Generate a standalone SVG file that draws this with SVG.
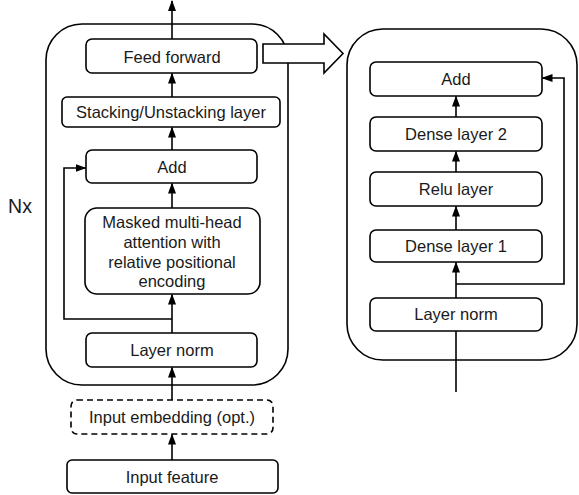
<svg xmlns="http://www.w3.org/2000/svg" width="579" height="495" viewBox="0 0 579 495">
<style>
.box{fill:#fff;stroke:#000;stroke-width:1.6}
.dash{fill:#fff;stroke:#000;stroke-width:1.6;stroke-dasharray:6,4}
.cont{fill:none;stroke:#000;stroke-width:1.6}
.t{font-family:"Liberation Sans",Arial,sans-serif;font-size:16.5px;fill:#1a1a1a;text-anchor:middle}
.c{fill:none;stroke:#000;stroke-width:1.6}
</style>
<defs>
<marker id="ah" markerUnits="userSpaceOnUse" markerWidth="11" markerHeight="8" refX="10" refY="4" orient="auto">
<path d="M0,0 L11,4 L0,8 z" fill="#000"/>
</marker>
</defs>
<rect class="cont" x="46" y="24" width="242" height="361" rx="36"/>
<rect class="cont" x="347" y="29" width="230" height="331" rx="36"/>
<text class="t" x="20" y="213" style="font-size:19.5px">Nx</text>
<g id="connectors">
<line class="c" x1="172" y1="39" x2="172" y2="1" marker-end="url(#ah)"/>
<line class="c" x1="172" y1="97" x2="172" y2="73.5" marker-end="url(#ah)"/>
<line class="c" x1="172" y1="150" x2="172" y2="127.5" marker-end="url(#ah)"/>
<line class="c" x1="172" y1="208" x2="172" y2="183.5" marker-end="url(#ah)"/>
<line class="c" x1="172" y1="333" x2="172" y2="294.5" marker-end="url(#ah)"/>
<path class="c" d="M172,319 H64 V168 H85.5" marker-end="url(#ah)"/>
<line class="c" x1="172" y1="400" x2="172" y2="367.5" marker-end="url(#ah)"/>
<line class="c" x1="172" y1="460" x2="172" y2="434.5" marker-end="url(#ah)"/>
<line class="c" x1="456" y1="392" x2="456" y2="331"/>
<line class="c" x1="456" y1="298" x2="456" y2="262.5" marker-end="url(#ah)"/>
<line class="c" x1="456" y1="230" x2="456" y2="206.5" marker-end="url(#ah)"/>
<line class="c" x1="456" y1="172" x2="456" y2="151.5" marker-end="url(#ah)"/>
<line class="c" x1="456" y1="117" x2="456" y2="96.5" marker-end="url(#ah)"/>
<path class="c" d="M456,284 H564 V78 H542.5" marker-end="url(#ah)"/>
</g>
<g id="big-arrow">
<polygon points="263,44 324,44 324,34 343,53.5 324,73 324,63 263,63" fill="#fff" stroke="#000" stroke-width="1.6"/>
</g>
<g id="feed-forward">
<rect class="box" x="86" y="39" width="171" height="34" rx="6"/>
<text class="t" x="172" y="63">Feed forward</text>
</g>
<g id="stacking">
<rect class="box" x="62" y="97" width="218" height="30" rx="5"/>
<text class="t" x="171" y="118">Stacking/Unstacking layer</text>
</g>
<g id="add-left">
<rect class="box" x="86" y="150" width="171" height="33" rx="6"/>
<text class="t" x="172" y="173">Add</text>
</g>
<g id="masked-attention">
<rect class="box" x="85" y="208" width="175" height="86" rx="12"/>
<text class="t" x="172" y="228">Masked multi-head</text>
<text class="t" x="172" y="248">attention with</text>
<text class="t" x="172" y="268">relative positional</text>
<text class="t" x="172" y="287">encoding</text>
</g>
<g id="layer-norm-left">
<rect class="box" x="86" y="333" width="171" height="34" rx="6"/>
<text class="t" x="172" y="356">Layer norm</text>
</g>
<g id="input-embedding">
<rect class="dash" x="71" y="400" width="202" height="34" rx="6"/>
<text class="t" x="172" y="423">Input embedding (opt.)</text>
</g>
<g id="input-feature">
<rect class="box" x="67" y="460" width="211" height="33" rx="5"/>
<text class="t" x="172" y="483">Input feature</text>
</g>
<g id="add-right">
<rect class="box" x="370" y="62" width="172" height="34" rx="6"/>
<text class="t" x="456" y="85">Add</text>
</g>
<g id="dense2">
<rect class="box" x="370" y="117" width="172" height="34" rx="6"/>
<text class="t" x="456" y="140">Dense layer 2</text>
</g>
<g id="relu">
<rect class="box" x="370" y="172" width="172" height="34" rx="6"/>
<text class="t" x="456" y="195">Relu layer</text>
</g>
<g id="dense1">
<rect class="box" x="370" y="230" width="172" height="32" rx="6"/>
<text class="t" x="456" y="252">Dense layer 1</text>
</g>
<g id="layer-norm-right">
<rect class="box" x="370" y="298" width="172" height="33" rx="6"/>
<text class="t" x="456" y="320">Layer norm</text>
</g>
</svg>
